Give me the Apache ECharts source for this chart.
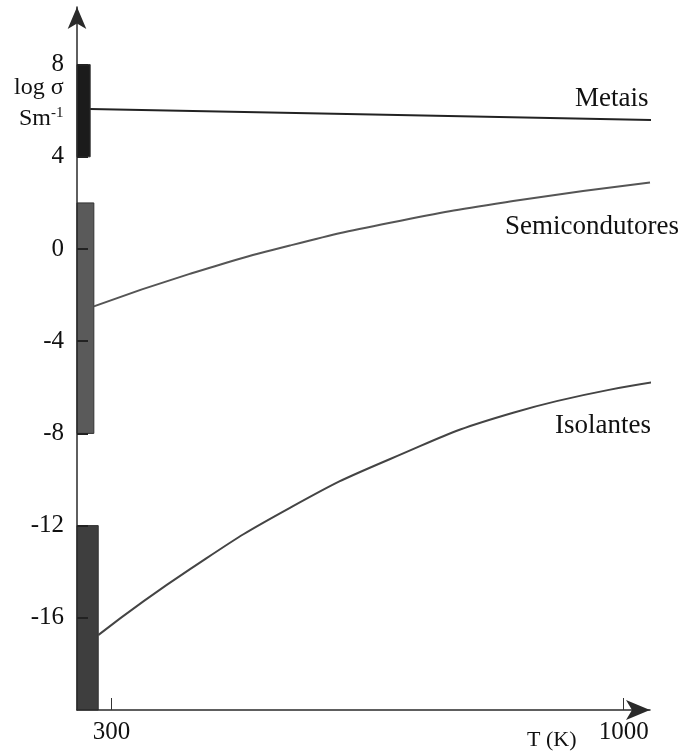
<!DOCTYPE html>
<html>
<head>
<meta charset="utf-8">
<script src="https://cdn.jsdelivr.net/npm/echarts@6/dist/echarts.min.js"></script>
<style>
  html, body { margin: 0; padding: 0; background: #fff; }
  #chart { width: 691px; height: 751px; }
</style>
</head>
<body>
<div id="chart"></div>
<script>
// temperatura (K) e log sigma
let metaisT = [271, 622, 1051]
let metaisLog = [6.08, 5.86, 5.59]
let semiT = [276, 407, 544, 681, 849, 1036]
let semiLog = [-2.49, -1.08, 0.15, 1.14, 2.08, 2.89]
let isoT = [282, 408, 544, 681, 849, 1038]
let isoLog = [-16.75, -13.88, -11.23, -9.11, -7.1, -5.79]
// faixas no eixo: [T inicio, T fim, log min, log max]
let faixaMetais = [253, 271, 4, 8]
let faixaSemi = [253, 276, -8, 2]
let faixaIso = [253, 282, -20, -12]
let yTicks = [-16, -12, -8, -4, 0, 4, 8]
let xTicks = [300, 1000]

function pares (xs, ys) {
  return xs.map(function (x, i) { return [x, ys[i]] })
}

let serif = '"Liberation Serif", "DejaVu Serif", serif'
let myCharts = echarts.init(document.getElementById('chart'))

myCharts.setOption({
  animation: false,
  grid: {
    left: 77,
    right: 41,
    top: 7,
    bottom: 41
  },
  xAxis: {
    type: 'value',
    min: 253,
    max: 1036,
    z: 10,
    splitLine: { show: false },
    axisLine: {
      onZero: false,
      symbol: ['none', 'arrow'],
      symbolSize: [15, 24],
      lineStyle: { color: '#2a2a2a', width: 1.5 }
    },
    axisTick: {
      inside: true,
      length: 12,
      customValues: xTicks,
      lineStyle: { color: '#333', width: 1 }
    },
    axisLabel: {
      customValues: xTicks,
      margin: 10,
      color: '#111',
      fontFamily: serif,
      fontSize: 25,
      formatter: function (value) {
        return String(value)
      }
    }
  },
  yAxis: {
    type: 'value',
    min: -20,
    max: 10.5,
    z: 10,
    splitLine: { show: false },
    axisLine: {
      onZero: false,
      symbol: ['none', 'arrow'],
      symbolSize: [14, 22],
      lineStyle: { color: '#2a2a2a', width: 1.5 }
    },
    axisTick: {
      inside: true,
      length: 11,
      customValues: yTicks,
      lineStyle: { color: '#222', width: 2 }
    },
    axisLabel: {
      customValues: yTicks,
      margin: 13,
      color: '#111',
      fontFamily: serif,
      fontSize: 25
    }
  },
  series: [
    {
      type: 'custom',
      z: 1,
      data: [faixaMetais, faixaSemi, faixaIso],
      renderItem: function (params, api) {
        let p1 = api.coord([api.value(0), api.value(3)])
        let p2 = api.coord([api.value(1), api.value(2)])
        let cores = ['#1b1b1b', '#5a5a5a', '#3e3e3e']
        return {
          type: 'rect',
          shape: { x: p1[0], y: p1[1], width: p2[0] - p1[0], height: p2[1] - p1[1] },
          style: { fill: cores[params.dataIndex], stroke: '#333', lineWidth: 1 }
        }
      }
    },
    {
      name: 'Metais',
      type: 'line',
      clip: false,
      smooth: true,
      showSymbol: false,
      data: pares(metaisT, metaisLog),
      lineStyle: { color: '#222', width: 2 }
    },
    {
      name: 'Semicondutores',
      type: 'line',
      clip: false,
      smooth: 0.5,
      showSymbol: false,
      data: pares(semiT, semiLog),
      lineStyle: { color: '#555', width: 2 }
    },
    {
      name: 'Isolantes',
      type: 'line',
      clip: false,
      smooth: 0.5,
      showSymbol: false,
      data: pares(isoT, isoLog),
      lineStyle: { color: '#444', width: 2 }
    }
  ],
  graphic: [
    { type: 'text', left: 14, top: 76, style: { text: 'log σ', font: '24px ' + serif, fill: '#111' } },
    {
      type: 'text',
      left: 19,
      top: 106,
      style: {
        text: 'Sm{sup|-1}',
        font: '24px ' + serif,
        fill: '#111',
        rich: { sup: { fontSize: 15, fontFamily: serif, verticalAlign: 'top', padding: [0, 0, 10, 0] } }
      }
    },
    { type: 'text', left: 575, top: 85, style: { text: 'Metais', font: '27px ' + serif, fill: '#111' } },
    { type: 'text', left: 505, top: 213, style: { text: 'Semicondutores', font: '27px ' + serif, fill: '#111' } },
    { type: 'text', left: 555, top: 412, style: { text: 'Isolantes', font: '27px ' + serif, fill: '#111' } },
    { type: 'text', left: 527, top: 729, style: { text: 'T (K)', font: '22px ' + serif, fill: '#111' } }
  ]
})
window.addEventListener('resize', function () {
  myCharts.resize()
})
</script>
</body>
</html>
